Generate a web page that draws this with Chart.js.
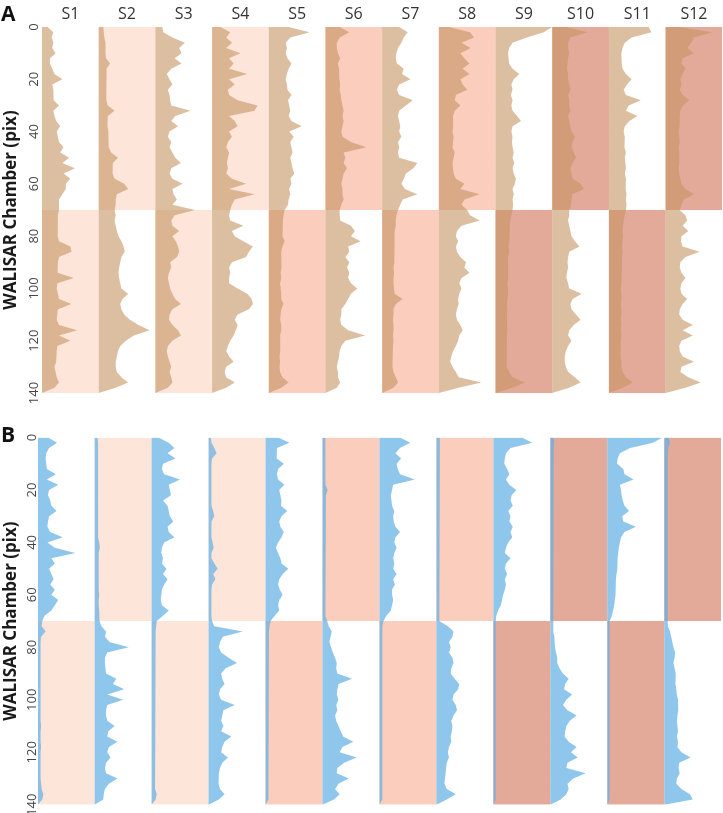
<!DOCTYPE html>
<html>
<head>
<meta charset="utf-8">
<script src="https://cdn.jsdelivr.net/npm/chart.js@4.4.1/dist/chart.umd.min.js"></script>
<style>
  body { margin: 0; background: #fff; width: 723px; height: 813px; position: relative; overflow: hidden; }
  .panel { position: absolute; left: 0; width: 723px; }
  .letter { position: absolute; left: 1px; font: 700 21px 'Open Sans', sans-serif; line-height: 21px; color: #111; }
</style>
</head>
<body>
<div class="panel" style="top:0;height:410px"><canvas id="panelA"></canvas></div>
<div class="panel" style="top:410px;height:403px"><canvas id="panelB"></canvas></div>
<div class="letter" style="top:3px">A</div>
<div class="letter" style="top:424px">B</div>
<script>
const samples = ['S1', 'S2', 'S3', 'S4', 'S5', 'S6', 'S7', 'S8', 'S9', 'S10', 'S11', 'S12'];
const depth = [0, 2, 4, 6, 8, 10, 12, 14, 16, 18, 20, 22, 24, 26, 28, 30, 32, 34, 36, 38, 40, 42, 44, 46, 48, 50, 52, 54, 56, 58, 60, 62, 64, 66, 68,
  70, 72, 74, 76, 78, 80, 82, 84, 86, 88, 90, 92, 94, 96, 98, 100, 102, 104, 106, 108, 110, 112, 114, 116, 118, 120, 122, 124, 126, 128, 130, 132, 134, 136, 138, 140];

// panel A profiles, % of column width
const aS1 = [10, 20, 17, 20, 18, 24, 14, 14, 18, 22, 36, 18, 20, 21, 20, 30, 20, 22, 25, 32, 26, 28, 30, 38, 32, 48, 36, 58, 38, 50, 42, 42, 36, 30, 30,
  30, 28, 28, 28, 27, 28, 30, 50, 52, 30, 28, 27, 28, 56, 27, 26, 28, 30, 52, 28, 27, 26, 30, 62, 30, 50, 27, 26, 25, 25, 22, 24, 26, 30, 22, 0];
const aS2 = [8, 9, 10, 12, 12, 12, 13, 20, 14, 13, 13, 14, 13, 14, 14, 16, 28, 16, 15, 16, 17, 18, 17, 18, 22, 34, 25, 24, 25, 28, 45, 52, 32, 30, 30,
  28, 30, 28, 30, 32, 35, 40, 44, 46, 40, 38, 36, 35, 36, 38, 40, 52, 42, 38, 40, 45, 55, 70, 90, 62, 48, 38, 34, 32, 30, 30, 32, 40, 52, 30, 0];
const aS3 = [12, 14, 30, 52, 42, 46, 34, 46, 28, 20, 25, 30, 22, 25, 26, 28, 62, 35, 28, 40, 25, 22, 28, 25, 30, 35, 45, 28, 25, 30, 48, 30, 32, 38, 30,
  70, 34, 28, 30, 42, 30, 36, 40, 42, 38, 26, 28, 24, 22, 24, 26, 30, 35, 45, 30, 25, 24, 30, 40, 45, 30, 22, 20, 22, 25, 28, 25, 28, 30, 22, 0];
const aS4 = [15, 32, 25, 35, 25, 50, 30, 38, 30, 62, 30, 40, 28, 30, 45, 80, 75, 30, 40, 45, 30, 35, 28, 25, 30, 28, 26, 28, 25, 35, 60, 30, 75, 40, 35,
  32, 30, 32, 55, 35, 40, 55, 72, 65, 60, 35, 30, 32, 30, 30, 45, 62, 70, 72, 65, 45, 40, 45, 42, 38, 32, 28, 25, 30, 38, 25, 22, 25, 40, 25, 0];
const aS5 = [35, 72, 38, 30, 32, 30, 33, 40, 35, 32, 30, 32, 33, 40, 34, 36, 38, 35, 40, 58, 36, 44, 38, 40, 42, 38, 40, 42, 45, 38, 40, 36, 38, 35, 34,
  28, 26, 25, 24, 24, 25, 28, 24, 22, 23, 22, 22, 21, 22, 20, 21, 22, 22, 26, 22, 21, 20, 22, 22, 20, 21, 20, 20, 19, 20, 19, 20, 24, 35, 22, 0];
const aS6 = [25, 42, 25, 20, 20, 22, 26, 22, 24, 25, 24, 26, 25, 27, 28, 30, 32, 30, 32, 30, 28, 30, 45, 72, 32, 35, 32, 38, 32, 30, 28, 30, 30, 32, 28,
  25, 25, 26, 45, 52, 45, 62, 40, 42, 35, 42, 38, 42, 40, 45, 56, 45, 40, 35, 28, 28, 26, 28, 40, 70, 35, 28, 25, 24, 22, 20, 22, 22, 26, 20, 0];
const aS7 = [30, 45, 38, 34, 28, 25, 24, 26, 38, 35, 50, 30, 26, 30, 54, 42, 30, 28, 30, 32, 30, 34, 28, 30, 28, 30, 62, 55, 42, 38, 34, 40, 62, 36, 32,
  28, 25, 24, 24, 22, 22, 22, 21, 22, 22, 21, 20, 21, 20, 20, 21, 22, 36, 24, 20, 20, 19, 20, 20, 19, 20, 19, 18, 18, 18, 19, 20, 24, 28, 20, 0];
const aS8 = [18, 55, 62, 40, 56, 38, 45, 54, 42, 54, 38, 42, 50, 30, 28, 38, 28, 25, 26, 25, 24, 26, 25, 24, 28, 26, 24, 25, 26, 30, 45, 38, 72, 45, 40,
  50, 55, 72, 40, 32, 30, 34, 30, 32, 38, 48, 45, 54, 40, 36, 40, 36, 34, 35, 32, 30, 32, 38, 42, 36, 34, 30, 25, 22, 20, 24, 30, 35, 75, 35, 0];
const aS9 = [100, 85, 55, 30, 24, 22, 23, 24, 30, 42, 32, 28, 30, 27, 30, 28, 30, 38, 45, 30, 28, 30, 29, 30, 32, 30, 33, 30, 32, 36, 34, 30, 32, 30, 31,
  30, 28, 26, 25, 24, 24, 25, 23, 24, 22, 23, 22, 22, 22, 21, 22, 22, 21, 20, 21, 20, 20, 20, 21, 20, 19, 20, 20, 19, 20, 20, 24, 30, 52, 30, 0];
const aS10 = [25, 62, 32, 28, 28, 30, 28, 27, 26, 28, 28, 30, 32, 28, 30, 30, 32, 28, 30, 32, 34, 40, 36, 34, 38, 42, 36, 32, 34, 36, 50, 56, 36, 34, 33,
  30, 30, 28, 30, 32, 34, 40, 48, 30, 28, 27, 28, 26, 25, 28, 30, 52, 36, 32, 34, 42, 50, 38, 30, 28, 34, 28, 24, 22, 22, 24, 28, 40, 50, 30, 0];
const aS11 = [70, 75, 40, 28, 24, 22, 22, 23, 24, 30, 40, 32, 26, 30, 56, 35, 30, 50, 36, 28, 26, 28, 27, 28, 30, 28, 29, 30, 28, 30, 29, 30, 31, 30, 31,
  30, 28, 26, 25, 24, 25, 24, 23, 24, 23, 22, 22, 23, 22, 22, 21, 22, 22, 21, 22, 22, 21, 22, 21, 22, 21, 21, 20, 21, 22, 22, 24, 30, 42, 25, 0];
const aS12 = [25, 82, 50, 45, 38, 50, 30, 28, 35, 30, 26, 28, 25, 30, 42, 30, 26, 25, 24, 25, 23, 24, 25, 23, 24, 25, 24, 23, 24, 26, 28, 35, 50, 32, 28,
  25, 35, 38, 30, 40, 28, 27, 30, 60, 35, 26, 25, 28, 35, 28, 26, 28, 38, 30, 25, 24, 30, 48, 30, 48, 28, 24, 25, 30, 50, 28, 26, 40, 62, 35, 0];

// panel B profiles, % of column width
const bS1 = [18, 34, 20, 15, 14, 15, 16, 32, 16, 36, 20, 18, 22, 24, 33, 20, 18, 17, 22, 44, 17, 30, 66, 24, 30, 20, 24, 28, 22, 30, 24, 36, 30, 24, 12,
  8, 7, 14, 6, 5, 5, 5, 5, 5, 5, 5, 5, 5, 5, 5, 5, 5, 5, 5, 5, 6, 5, 5, 5, 6, 5, 5, 5, 5, 5, 5, 6, 7, 10, 8, 0];
const bS2 = [5, 6, 6, 6, 6, 6, 6, 6, 6, 6, 6, 6, 6, 6, 6, 6, 6, 6, 6, 7, 8, 9, 7, 7, 7, 7, 7, 7, 7, 7, 8, 7, 7, 8, 8,
  9, 12, 20, 18, 26, 60, 22, 18, 18, 19, 20, 38, 32, 52, 22, 50, 22, 20, 20, 22, 35, 24, 22, 40, 25, 22, 28, 20, 18, 20, 40, 25, 18, 16, 15, 0];
const bS3 = [12, 30, 40, 28, 42, 20, 18, 22, 50, 30, 32, 34, 20, 28, 30, 32, 38, 28, 30, 40, 22, 18, 17, 20, 18, 26, 20, 28, 22, 18, 17, 16, 18, 30, 20,
  9, 8, 7, 7, 6, 6, 6, 6, 6, 6, 6, 6, 6, 6, 6, 6, 6, 6, 6, 6, 6, 6, 6, 6, 6, 6, 6, 6, 6, 6, 6, 6, 7, 9, 7, 0];
const bS4 = [4, 5, 10, 14, 6, 5, 5, 5, 5, 5, 5, 5, 5, 5, 8, 10, 5, 5, 5, 5, 7, 9, 5, 5, 10, 16, 8, 12, 6, 5, 5, 5, 5, 5, 5,
  6, 10, 60, 25, 20, 18, 22, 35, 50, 30, 22, 24, 28, 20, 18, 22, 46, 26, 24, 22, 26, 22, 40, 28, 24, 22, 34, 24, 20, 18, 18, 17, 20, 28, 18, 0];
const bS5 = [22, 42, 20, 19, 20, 32, 22, 20, 22, 33, 24, 26, 28, 27, 38, 28, 24, 26, 32, 28, 22, 18, 22, 26, 28, 40, 30, 24, 22, 25, 30, 24, 22, 24, 16,
  9, 7, 6, 5, 5, 5, 5, 5, 5, 5, 5, 5, 5, 5, 5, 5, 5, 5, 5, 5, 5, 5, 5, 5, 5, 5, 5, 5, 5, 5, 5, 5, 5, 5, 5, 0];
const bS6 = [5, 5, 5, 5, 5, 5, 5, 5, 5, 6, 9, 6, 5, 5, 5, 5, 5, 5, 5, 5, 5, 5, 5, 5, 5, 5, 5, 5, 5, 5, 5, 5, 5, 6, 6,
  8, 11, 16, 14, 12, 15, 18, 22, 25, 24, 26, 52, 28, 26, 25, 28, 24, 26, 22, 24, 28, 32, 36, 54, 35, 30, 60, 38, 26, 25, 46, 28, 22, 30, 20, 0];
const bS7 = [36, 54, 36, 28, 38, 30, 32, 36, 62, 24, 22, 20, 21, 22, 26, 24, 25, 28, 36, 28, 26, 30, 26, 24, 26, 24, 30, 24, 27, 22, 22, 24, 22, 20, 12,
  7, 5, 5, 5, 5, 5, 5, 5, 5, 5, 5, 5, 5, 5, 5, 5, 5, 5, 5, 5, 5, 5, 5, 5, 5, 5, 5, 5, 5, 5, 5, 5, 5, 5, 5, 0];
const bS8 = [6, 6, 5, 5, 5, 5, 5, 5, 5, 5, 5, 5, 5, 5, 5, 5, 5, 5, 5, 5, 5, 5, 5, 5, 5, 5, 5, 5, 5, 5, 5, 5, 5, 5, 5,
  6, 20, 30, 28, 22, 25, 22, 28, 30, 26, 25, 32, 40, 38, 30, 28, 34, 36, 30, 26, 28, 27, 25, 26, 22, 20, 22, 18, 17, 16, 15, 14, 18, 34, 18, 0];
const bS9 = [50, 68, 30, 22, 20, 19, 24, 28, 22, 28, 40, 32, 30, 34, 26, 30, 28, 34, 30, 33, 26, 22, 20, 30, 22, 20, 24, 20, 22, 20, 17, 15, 13, 8, 5,
  4, 4, 4, 4, 4, 4, 4, 4, 4, 4, 4, 4, 4, 4, 4, 4, 4, 4, 4, 4, 4, 4, 4, 4, 4, 4, 4, 4, 4, 4, 4, 4, 4, 4, 4, 0];
const bS10 = [6, 7, 6, 5, 5, 5, 5, 5, 5, 5, 5, 5, 5, 5, 5, 5, 5, 5, 5, 5, 5, 5, 5, 5, 5, 5, 5, 5, 5, 5, 5, 5, 5, 5, 5,
  5, 5, 6, 7, 8, 8, 10, 12, 12, 16, 22, 32, 26, 24, 38, 28, 22, 30, 46, 34, 28, 26, 25, 32, 46, 36, 48, 30, 28, 62, 40, 30, 32, 28, 18, 0];
const bS11 = [97, 80, 40, 22, 18, 17, 28, 30, 46, 22, 24, 25, 27, 30, 38, 26, 28, 50, 30, 24, 22, 20, 19, 18, 18, 17, 16, 15, 15, 14, 14, 13, 12, 10, 8,
  4, 4, 4, 4, 4, 4, 4, 4, 4, 4, 4, 4, 4, 4, 4, 4, 4, 4, 4, 4, 4, 4, 4, 4, 4, 4, 4, 4, 4, 4, 4, 4, 4, 4, 4, 0];
const bS12 = [8, 10, 7, 6, 6, 6, 6, 6, 6, 6, 6, 6, 6, 6, 6, 6, 6, 6, 6, 6, 6, 6, 6, 6, 6, 6, 6, 6, 6, 6, 6, 6, 6, 6, 6,
  6, 6, 10, 12, 14, 16, 19, 18, 16, 18, 20, 19, 20, 21, 22, 24, 25, 24, 23, 22, 23, 24, 22, 24, 23, 30, 46, 26, 25, 27, 22, 21, 30, 45, 50, 0];

const profilesA = [aS1, aS2, aS3, aS4, aS5, aS6, aS7, aS8, aS9, aS10, aS11, aS12];
const profilesB = [bS1, bS2, bS3, bS4, bS5, bS6, bS7, bS8, bS9, bS10, bS11, bS12];

// shaded half of each column (chamber range) and its tone
const shadeSpan = [[70, 140], [0, 70], [70, 140], [0, 70], [70, 140], [0, 70], [70, 140], [0, 70], [70, 140], [0, 70], [70, 140], [0, 70]];
const shadeTone = [0, 0, 0, 0, 1, 1, 1, 1, 2, 2, 2, 2];
const toneColors = ['#fde5da', '#fbcdbd', '#e3aa9a'];

function buildDatasets(profiles, fillColor) {
  const sets = [];
  samples.forEach((name, i) => {
    sets.push({
      label: name + ' zone',
      data: shadeSpan[i].map(d => ({ x: i, y: d })),
      fill: { value: i + 1 },
      backgroundColor: toneColors[shadeTone[i]],
      borderWidth: 0,
      pointRadius: 0,
      order: 2
    });
    sets.push({
      label: name,
      data: depth.map((d, k) => ({ x: i + profiles[i][k] / 100, y: d })),
      fill: { value: i },
      backgroundColor: fillColor,
      borderWidth: 0,
      pointRadius: 0,
      order: 1
    });
  });
  return sets;
}

function makeChart(id, profiles, fillColor, o) {
  return new Chart(document.getElementById(id), {
    type: 'line',
    data: { datasets: buildDatasets(profiles, fillColor) },
    options: {
      indexAxis: 'y',
      responsive: true,
      maintainAspectRatio: false,
      animation: false,
      events: [],
      layout: { padding: o.padding },
      elements: { line: { tension: 0 } },
      plugins: { legend: { display: false }, tooltip: { enabled: false } },
      scales: {
        x: {
          type: 'linear', min: 0, max: 12, position: 'top', display: o.showNames,
          grid: { display: false, drawTicks: false },
          border: { display: false },
          afterBuildTicks: s => { s.ticks = samples.map((n, i) => ({ value: i + 0.5 })); },
          afterFit: s => { s.height = o.top; },
          ticks: {
            autoSkip: false, maxRotation: 0, padding: 3, color: '#333',
            font: { family: 'Open Sans', size: 16 },
            callback: (v, i) => samples[i]
          }
        },
        y: {
          type: 'linear', reverse: true, min: 0, max: 140,
          grid: { display: false, drawTicks: false },
          border: { display: false },
          afterFit: s => { s.width = o.left; },
          ticks: {
            stepSize: 20, minRotation: 90, maxRotation: 90, crossAlign: 'center',
            padding: o.tickPad, color: '#444',
            font: { family: 'Open Sans', size: 13 }
          },
          title: {
            display: true, text: 'WALISAR Chamber (pix)', color: '#1a1a1a',
            font: { family: 'Open Sans', size: 17, weight: '700' },
            padding: { top: 1, bottom: 0 }
          }
        }
      }
    }
  });
}

makeChart('panelA', profilesA, 'rgba(196, 146, 96, 0.6)', {
  showNames: true, top: 27, left: 42, tickPad: -3.5,
  padding: { top: 0, right: 0.7, bottom: 17, left: 0 }
});
makeChart('panelB', profilesB, 'rgba(100, 176, 228, 0.72)', {
  showNames: false, top: 0, left: 37.7, tickPad: -5.5,
  padding: { top: 27.5, right: 1.7, bottom: 8.3, left: 0 }
});
</script>
</body>
</html>
